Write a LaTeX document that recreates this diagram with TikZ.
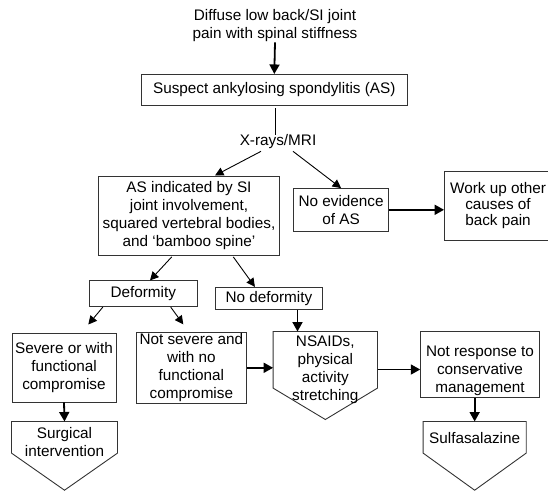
\documentclass[tikz,border=0pt]{standalone}
\usepackage{fontspec}
\setmainfont{Liberation Sans}
\usetikzlibrary{arrows.meta,calc}

% pentagon-shaped (off-page connector) outline around an empty frame node
\newcommand\pentframe[2]{%
  \draw[frame] (#1.north west) -- (#1.north east) -- ($(#1.north east)+(0,#2)$)
    -- (#1.south) -- ($(#1.north west)+(0,#2)$) -- cycle;}

\begin{document}
\begin{tikzpicture}[x=1pt,y=-1pt,
  txt/.style={font=\fontsize{15.3}{18}\selectfont, align=center, inner sep=0pt},
  box/.style={txt, draw=black!80, line width=0.9pt, rectangle},
  frame/.style={draw=black!80, line width=0.9pt},
  pentholder/.style={rectangle, draw=none, inner sep=0pt},
  arr/.style={-{Triangle[length=9.5pt,width=10pt]}, line width=1.8pt},
  thinarr/.style={-{Triangle[length=8.5pt,width=8.5pt]}, line width=0.9pt},
  plain/.style={line width=0.9pt},
]
\useasboundingbox (0,0) rectangle (548,490);

% text and boxes
\node[txt] (start) at (275,26) {Diffuse low back/SI joint\\pain with spinal stiffness};
\node[box, minimum width=265.4pt, minimum height=31.2pt] (suspect) at (274.3,90)
  {Suspect ankylosing spondylitis (AS)};
\node[txt] (xray) at (278,142) {X-rays/MRI};
\node[box, minimum width=181pt, minimum height=79.5pt] (asind) at (189,215.7)
  {AS indicated by SI\\joint involvement,\\squared vertebral bodies,\\and `bamboo spine'};
\node[box, minimum width=95.2pt, minimum height=42.5pt] (noev) at (341.1,209.8)
  {No evidence\\of AS};
\node[box, font=\fontsize{15.3}{16}\selectfont, minimum width=107pt, minimum height=68.3pt] (workup) at (498,206)
  {Work up other\\causes of\\back pain};
\node[box, minimum width=108pt, minimum height=25.3pt] (defo) at (143.3,293.5) {Deformity};
\node[box, minimum width=107.7pt, minimum height=22pt] (nodef) at (268.9,298.3) {No deformity};
\node[box, minimum width=104pt, minimum height=68.5pt] (severe) at (64,367.7)
  {Severe or with\\functional\\compromise};
\node[box, minimum width=110.7pt, minimum height=71pt] (notsev) at (191.4,367.8)
  {Not severe and\\with no\\functional\\compromise};
\node[box, minimum width=118.6pt, minimum height=65.6pt] (notresp) at (480,364.5) {};
\node[txt] (notrespT) at (480,371) {Not response to\\conservative\\management};

% pentagon frames
\node[pentholder, minimum width=104pt, minimum height=87.6pt] (nsaid) at (325.3,375.5) {};
\pentframe{nsaid}{56.6}
\node[txt] (nsaidT) at (325.3,369.5) {NSAIDs,\\physical\\activity\\stretching};

\node[pentholder, minimum width=105.6pt, minimum height=68.3pt] (surg) at (64.5,455.85) {};
\pentframe{surg}{31.6}
\node[txt] (surgT) at (64.5,441.7) {Surgical\\intervention};

\node[pentholder, minimum width=102.7pt, minimum height=68.3pt] (sulfa) at (474.65,455.85) {};
\pentframe{sulfa}{31.6}
\node[txt] (sulfaT) at (474.65,438.3) {Sulfasalazine};

% connectors
\draw[arr] (start.south) -- (suspect.north);
\draw[plain, shorten <=2pt] ($(suspect.south)+(0.7,0)$) coordinate (sx) -- (sx |- xray.north);
\draw[thinarr] ($(xray.south)+(-17,2)$) -- ($(asind.north)+(26,0)$);
\draw[thinarr] ($(xray.south)+(15,2)$) -- (noev.north);
\draw[arr] (noev.east) -- (noev.east -| workup.west);
\draw[thinarr] ($(asind.south)+(-17.3,1)$) -- ($(defo.north)+(6.7,0)$);
\draw[thinarr] ($(asind.south)+(44.3,1)$) -- ($(nodef.north)+(-14,0)$);
\draw[thinarr] ($(defo.south west)+(14,0.5)$) -- ($(severe.north)+(24.3,-8.5)$);
\draw[thinarr] ($(defo.south)+(27.4,0.5)$) -- ($(notsev.north)+(-8.1,-7.5)$);
\draw[arr] ($(nodef.south)+(28.6,0)$) coordinate (nd) -- (nd |- nsaid.north);
\draw[arr] (notsev.east) -- (notsev.east -| nsaid.west);
\draw[arr] (nsaidT.east -| nsaid.east) -- (nsaidT.east -| notresp.west);
\draw[arr] (severe.south) -- (surg.north);
\draw[arr] (sulfa.north |- notresp.south) -- (sulfa.north);
\end{tikzpicture}
\end{document}
